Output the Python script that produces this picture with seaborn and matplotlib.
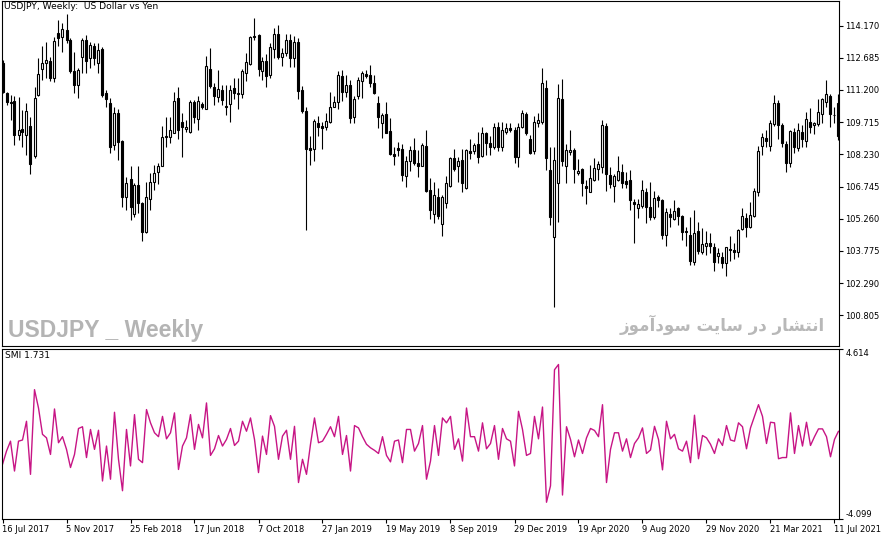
import numpy as np
import pandas as pd
import matplotlib
matplotlib.use("Agg")
from matplotlib import pyplot as plt
import seaborn as sns

# weekly USDJPY candles, 16 Jul 2017 .. 18 Jul 2021 (one per week)
open_ = [
    112.43, 111.05, 110.65, 110.71, 109.13, 109.39, 109.13, 109.54, 108.13, 110.97,
    112.18, 112.46, 112.54, 111.74, 113.84, 113.66, 113.94, 113.48, 112.09, 111.43,
    112.71, 113.51, 112.66, 113.23, 112.46, 113.08, 111.05, 110.59, 108.66, 110.13,
    108.85, 106.28, 107.10, 105.48, 106.82, 105.97, 104.67, 106.16, 106.93, 107.43,
    107.70, 109.08, 109.05, 109.23, 110.82, 109.71, 109.40, 109.25, 110.63, 109.85,
    110.54, 110.31, 112.17, 111.35, 110.89, 111.20, 110.46, 110.54, 111.28, 111.02,
    111.00, 111.97, 112.38, 113.69, 113.74, 112.09, 112.51, 111.89, 113.08, 113.77,
    112.71, 112.89, 113.50, 112.66, 113.40, 111.20, 110.23, 108.51, 108.46, 109.66,
    109.54, 109.48, 109.71, 110.40, 110.63, 111.85, 111.09, 111.43, 109.97, 110.94,
    111.63, 111.94, 111.89, 111.51, 110.59, 109.69, 110.08, 109.31, 108.25, 108.51,
    108.46, 107.25, 107.90, 108.43, 107.82, 107.70, 108.62, 106.59, 105.48, 106.28,
    105.02, 106.00, 106.77, 108.05, 107.70, 107.97, 106.67, 108.40, 108.36, 108.71,
    108.16, 109.23, 108.77, 108.56, 109.51, 108.59, 109.28, 109.43, 109.36, 108.12,
    109.48, 110.09, 108.93, 108.40, 109.66, 109.74, 111.28, 107.51, 104.41, 106.90,
    110.77, 107.70, 108.33, 108.43, 107.36, 107.54, 106.77, 106.48, 107.05, 107.54,
    107.63, 109.54, 107.28, 106.77, 107.05, 107.43, 107.02, 107.05, 106.05, 105.74,
    105.85, 106.51, 105.79, 105.33, 106.28, 106.10, 104.51, 105.48, 105.24, 105.74,
    105.39, 104.71, 104.51, 103.28, 104.71, 103.74, 104.01, 104.13, 103.94, 103.54,
    103.48, 103.24, 103.87, 103.82, 103.74, 104.77, 105.28, 104.87, 105.39, 106.47,
    108.62, 108.97, 108.62, 109.63, 110.59, 109.59, 108.71, 107.85, 109.28, 108.51,
    109.28, 108.86, 109.74, 109.59, 109.63, 110.09, 110.66, 110.92, 110.05, 110.59,
]
high = [
    112.58, 111.12, 110.97, 110.92, 110.89, 110.28, 110.59, 109.97, 111.35, 112.66,
    113.23, 113.43, 112.74, 113.66, 114.43, 114.28, 114.71, 113.58, 112.97, 112.20,
    113.58, 113.74, 113.43, 113.35, 113.38, 113.20, 111.20, 110.82, 110.43, 110.31,
    108.90, 107.20, 107.67, 106.90, 107.67, 106.05, 106.97, 107.36, 107.74, 107.82,
    109.54, 109.97, 109.97, 111.12, 111.35, 110.13, 109.82, 110.74, 110.74, 110.92,
    110.66, 112.77, 113.12, 111.54, 112.12, 111.43, 111.43, 111.43, 111.74, 111.74,
    112.15, 112.89, 113.69, 114.51, 113.78, 112.74, 112.86, 113.35, 114.04, 114.20,
    113.12, 113.80, 113.80, 113.70, 113.60, 111.39, 110.43, 109.08, 109.85, 110.00,
    109.74, 110.15, 111.12, 110.92, 112.05, 112.12, 111.89, 111.66, 110.92, 111.78,
    112.09, 112.12, 112.35, 111.89, 110.92, 110.15, 110.66, 109.89, 108.59, 108.79,
    108.69, 108.16, 108.62, 108.97, 108.43, 108.77, 109.33, 107.13, 106.97, 106.67,
    106.35, 107.24, 108.12, 108.46, 108.12, 108.46, 108.46, 108.93, 108.74, 109.28,
    109.51, 109.28, 109.08, 109.69, 109.74, 109.74, 109.69, 109.69, 109.51, 109.69,
    110.28, 110.20, 109.13, 110.00, 110.15, 112.20, 111.66, 108.56, 108.59, 111.48,
    111.69, 108.71, 109.36, 108.51, 108.00, 107.59, 107.05, 107.74, 108.05, 107.90,
    109.82, 109.66, 107.66, 107.30, 108.16, 107.79, 107.43, 107.51, 106.16, 106.16,
    107.05, 106.67, 106.97, 106.56, 106.36, 106.16, 105.74, 105.74, 106.13, 105.82,
    105.45, 104.90, 105.36, 105.67, 105.13, 104.82, 104.71, 104.59, 104.13, 103.90,
    103.74, 103.97, 104.44, 104.13, 104.78, 105.74, 105.51, 106.05, 106.67, 108.62,
    109.23, 109.36, 109.79, 110.97, 110.74, 109.66, 108.86, 109.36, 109.43, 109.69,
    109.59, 110.20, 110.35, 109.74, 110.77, 110.82, 111.66, 111.01, 110.43, 111.00,
]
low = [
    111.05, 110.51, 109.79, 108.66, 108.90, 108.59, 108.20, 107.31, 108.05, 110.92,
    111.66, 111.74, 111.62, 111.58, 113.23, 112.94, 113.35, 111.97, 111.05, 110.82,
    111.97, 111.97, 112.20, 112.35, 112.00, 110.86, 110.43, 108.28, 108.43, 107.97,
    105.82, 105.67, 105.21, 105.36, 105.51, 104.21, 104.62, 105.67, 106.59, 106.87,
    107.67, 108.59, 108.74, 109.20, 108.93, 108.09, 109.28, 109.20, 109.66, 109.36,
    110.31, 110.31, 111.28, 110.51, 110.66, 110.51, 110.05, 109.74, 110.77, 110.31,
    110.82, 111.63, 112.35, 113.48, 111.82, 111.66, 111.32, 111.74, 112.66, 112.62,
    112.28, 112.75, 112.25, 112.25, 110.77, 110.13, 104.72, 107.74, 107.94, 109.08,
    108.46, 109.36, 109.69, 110.40, 110.31, 110.71, 110.86, 109.69, 109.66, 110.77,
    110.82, 111.74, 111.32, 111.00, 109.43, 108.97, 109.20, 108.20, 107.74, 108.13,
    107.02, 106.74, 107.48, 107.74, 107.17, 107.67, 106.47, 105.24, 105.05, 105.24,
    104.44, 105.74, 106.74, 107.48, 106.93, 106.47, 106.62, 108.00, 108.25, 107.85,
    108.12, 108.20, 108.20, 108.46, 108.40, 108.40, 109.17, 109.28, 107.82, 107.63,
    109.43, 109.13, 108.25, 108.25, 109.51, 109.63, 107.51, 104.98, 101.21, 105.13,
    107.69, 106.90, 108.20, 106.90, 107.27, 106.31, 105.94, 106.47, 107.02, 107.05,
    107.39, 106.56, 106.67, 106.05, 107.02, 106.67, 106.67, 105.67, 104.16, 105.28,
    105.74, 105.08, 105.18, 105.24, 105.79, 104.31, 103.98, 104.90, 105.21, 104.97,
    104.28, 104.01, 103.13, 103.13, 103.64, 103.64, 103.59, 103.70, 102.87, 103.24,
    102.97, 102.62, 103.33, 103.39, 103.51, 104.74, 104.41, 104.82, 105.36, 106.31,
    108.20, 108.59, 108.36, 109.54, 108.92, 108.56, 107.43, 107.63, 108.31, 108.36,
    108.56, 108.56, 109.23, 109.17, 109.54, 109.69, 110.40, 109.51, 109.69, 108.90,
]
close = [
    111.12, 110.62, 110.59, 109.13, 109.36, 109.28, 110.23, 107.79, 110.82, 111.94,
    112.46, 112.58, 111.74, 113.46, 113.61, 114.00, 113.48, 112.05, 111.43, 112.12,
    113.48, 112.55, 113.29, 112.66, 113.05, 110.97, 110.77, 108.56, 110.13, 108.82,
    106.25, 106.90, 105.79, 106.82, 105.97, 104.67, 106.25, 106.93, 107.36, 107.67,
    109.02, 109.02, 109.33, 110.71, 109.36, 109.51, 109.51, 110.63, 109.94, 110.71,
    110.43, 112.31, 111.38, 110.92, 111.23, 110.74, 110.39, 111.20, 111.05, 111.05,
    112.05, 112.48, 113.63, 113.63, 112.15, 112.51, 111.85, 113.17, 113.77, 112.74,
    112.92, 113.50, 112.66, 113.40, 111.17, 110.25, 108.46, 108.43, 109.77, 109.51,
    109.46, 109.77, 110.40, 110.63, 111.89, 111.12, 111.43, 109.89, 110.77, 111.66,
    112.00, 111.86, 111.51, 111.05, 109.94, 110.05, 109.23, 108.23, 108.16, 108.43,
    107.28, 107.93, 108.43, 107.82, 107.67, 108.66, 106.56, 105.64, 106.36, 105.39,
    106.28, 106.90, 108.05, 107.54, 107.93, 106.90, 108.43, 108.31, 108.66, 108.12,
    109.23, 108.74, 108.58, 109.48, 108.56, 109.36, 109.43, 109.36, 108.10, 109.48,
    110.13, 109.23, 108.31, 109.74, 109.79, 111.54, 108.05, 105.33, 107.97, 110.82,
    107.94, 108.43, 108.43, 107.54, 107.47, 106.90, 106.67, 107.13, 107.59, 107.79,
    109.59, 107.33, 106.87, 107.23, 107.47, 106.90, 106.87, 106.13, 105.94, 105.94,
    106.59, 105.79, 105.33, 106.20, 106.13, 104.51, 105.59, 105.33, 105.62, 105.39,
    104.67, 104.65, 103.33, 104.59, 103.79, 104.08, 104.16, 104.02, 103.28, 103.67,
    103.24, 103.94, 103.82, 103.74, 104.74, 105.39, 104.90, 105.44, 106.56, 108.39,
    109.02, 108.86, 109.66, 110.59, 109.59, 108.77, 107.85, 109.31, 108.56, 109.36,
    108.92, 109.85, 109.48, 109.69, 110.20, 110.77, 111.01, 110.09, 110.02, 109.08,
]
smi = [
    -1.30, -0.62, -0.11, -1.64, -0.11, -0.05, 0.91, -1.81, 2.53, 1.59,
    0.24, 0.06, -0.79, 1.54, -0.19, 0.12, -0.53, -1.46, -0.79, 0.54,
    0.63, -0.95, 0.49, -0.53, 0.45, -2.15, -0.36, -2.06, 1.37, -1.04,
    -2.65, 0.49, -1.38, 1.25, -1.04, -1.21, 1.51, 0.83, 0.32, 0.12,
    1.16, 0.01, 0.32, 1.34, -1.56, -0.36, 0.06, 1.25, -0.53, 0.75,
    0.06, 1.85, -0.84, -0.50, 0.18, -0.36, -0.02, 0.54, -0.33, -0.11,
    0.91, 0.40, 1.08, -0.02, -1.72, 0.15, -0.79, 1.20, 0.65, -1.04,
    0.15, 0.45, -1.04, 0.65, -2.23, -1.04, -1.81, -0.27, 1.08, -0.19,
    -0.11, 0.24, 0.63, 0.12, 1.16, -0.79, 0.18, -1.64, 0.69, 0.57,
    0.12, -0.27, -0.45, -0.58, -0.74, 0.12, -0.84, -1.17, -0.11, -0.05,
    -1.21, 0.49, 0.49, -0.62, -0.23, 0.69, -2.06, -1.13, 0.69, -0.84,
    1.08, 0.83, 1.16, -0.53, 0.01, -1.13, 1.59, 0.12, 0.12, -0.62,
    0.83, -0.50, -0.23, 0.69, -1.04, 0.54, 0.01, -0.11, -1.38, 1.42,
    0.49, -0.84, -0.74, 1.16, 0.01, 1.64, -3.24, -2.40, 3.55, 3.82,
    -2.87, 0.63, -0.02, -0.91, -0.05, -0.74, 0.06, 0.54, 0.44, 0.12,
    1.76, -2.23, -0.53, 0.32, 0.32, -0.62, 0.01, -0.95, -0.23, 0.06,
    0.57, -0.74, -0.56, 0.65, -0.02, -1.58, 0.91, 0.01, 0.24, -0.50,
    -0.62, -0.11, -1.21, 1.22, -1.01, 0.18, 0.06, -0.27, -0.74, 0.01,
    -0.33, 0.69, -0.05, -0.11, 0.83, 0.63, -0.50, 0.57, 1.16, 1.76,
    1.16, -0.23, 0.86, 0.83, -1.01, -0.95, -0.95, 1.34, -0.74, 0.69,
    -0.36, 0.86, -0.33, 0.12, 0.52, 0.52, 0.12, -0.91, -0.02, 0.40,
]

date_ticks = [0, 16, 32, 48, 64, 80, 96, 112, 128, 144, 160, 176, 192, 208]
date_labels = [
    "16 Jul 2017", "5 Nov 2017", "25 Feb 2018", "17 Jun 2018", "7 Oct 2018",
    "27 Jan 2019", "19 May 2019", "8 Sep 2019", "29 Dec 2019", "19 Apr 2020",
    "9 Aug 2020", "29 Nov 2020", "21 Mar 2021", "11 Jul 2021",
]
price_ticks = [100.805, 102.290, 103.775, 105.260, 106.745,
               108.230, 109.715, 111.200, 112.685, 114.170]
smi_ticks = [-4.099, 4.614]

# "انتشار در سایت سودآموز" written with presentation forms in display order,
# since matplotlib does no Arabic shaping / right-to-left layout
site_text = ("\uFEAF\uFEEE\uFEE3\uFE81\uFEA9\uFEEE\uFEB3 \uFE96\uFEF3\uFE8E\uFEB3 "
             "\uFEAD\uFEA9 \uFEAD\uFE8E\uFEB8\uFE98\uFEE7\uFE8D")

df = pd.DataFrame({"open": open_, "high": high, "low": low, "close": close, "smi": smi})
df["i"] = np.arange(len(df))
up = df["close"] >= df["open"]

sns.set_theme(style="white")
plt.rcParams["font.family"] = ["DejaVu Sans"]
plt.rcParams["axes.edgecolor"] = "black"
plt.rcParams["axes.linewidth"] = 0.8

W, H = 892, 541
fig = plt.figure(figsize=(W / 100, H / 100), dpi=100)
fig.patch.set_facecolor("white")
ax = fig.add_axes([2 / W, 1 - 346 / H, 837 / W, 345 / H])
ax2 = fig.add_axes([2 / W, 1 - 519 / H, 837 / W, 170 / H], sharex=ax)

# candles
ax.vlines(df["i"], df["low"], df["high"], color="black", lw=0.8, zorder=1)
ax.bar(df["i"][up], (df["close"] - df["open"])[up], bottom=df["open"][up], width=0.5,
       facecolor="white", edgecolor="black", lw=0.8, zorder=2)
ax.bar(df["i"][~up], (df["open"] - df["close"])[~up], bottom=df["close"][~up], width=0.5,
       facecolor="black", edgecolor="black", lw=0.8, zorder=2)

ax.set_xlim(-0.125, 209.125)
ax.set_ylim(99.39, 115.30)
ax.yaxis.tick_right()
ax.set_yticks(price_ticks)
ax.set_yticklabels([f"{v:.3f}" for v in price_ticks])
ax.tick_params(axis="y", direction="out", length=3, width=0.8, pad=1.5,
               labelsize=6, colors="black", right=True, left=False)
ax.tick_params(axis="x", bottom=False, labelbottom=False)
ax.set_xlabel("")
ax.set_ylabel("")

# SMI line
sns.lineplot(data=df, x="i", y="smi", ax=ax2, color="#c71585", lw=1.0)
ax2.set_ylim(smi_ticks[0], smi_ticks[1])
ax2.yaxis.tick_right()
ax2.set_yticks(smi_ticks)
ax2.set_yticklabels([f"{v:.3f}" for v in smi_ticks])
ax2.tick_params(axis="y", direction="out", length=3, width=0.8, pad=1.5,
                labelsize=6, colors="black", right=True, left=False)
labs = ax2.get_yticklabels()
labs[0].set_va("bottom")
labs[1].set_va("top")
ax2.set_xticks(date_ticks)
ax2.set_xticklabels(date_labels, ha="left")
ax2.tick_params(axis="x", direction="out", length=3, width=0.8, pad=1.5,
                labelsize=6, colors="black", bottom=True)
ax2.set_xlabel("")
ax2.set_ylabel("")

for a in (ax, ax2):
    for s in a.spines.values():
        s.set_color("black")
        s.set_linewidth(0.8)

fig.text(4 / W, 1 - 2 / H, "USDJPY, Weekly:  US Dollar vs Yen", va="top", ha="left",
         fontsize=6.6, color="black")
fig.text(5 / W, 1 - 351 / H, "SMI 1.731", va="top", ha="left", fontsize=6.6, color="black")
fig.text(8 / W, 1 - 337 / H, "USDJPY _ Weekly", va="baseline", ha="left",
         fontsize=16.5, fontweight="bold", color="#b4b4b4",
         family=["Liberation Sans", "DejaVu Sans"])
fig.text(825 / W, 1 - 331 / H, site_text, va="baseline", ha="right",
         fontsize=12, fontweight="bold", color="#b8b8b8", family=["DejaVu Sans"])

fig.savefig("out.png", dpi=100)
